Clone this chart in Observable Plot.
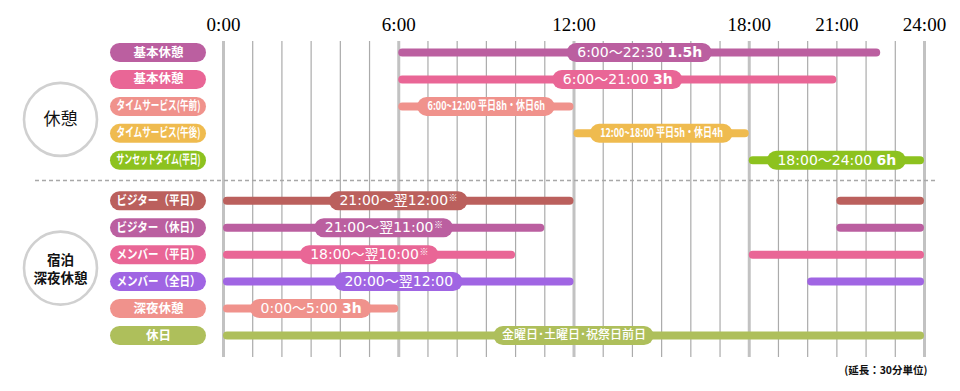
<!DOCTYPE html>
<html>
<head>
<meta charset="utf-8">
<script src="https://cdn.jsdelivr.net/npm/d3@7"></script>
<script src="https://cdn.jsdelivr.net/npm/@observablehq/plot@0.6"></script>
<style>
  html, body { margin: 0; padding: 0; background: #fff; }
</style>
</head>
<body>
<script>
// ---------------- DATA ----------------
const hourTicks = [0, 6, 12, 18, 21, 24];
const gridHours = d3.range(0, 25);
const rowLabels = [
  "基本休憩", "基本休憩", "タイムサービス(午前)", "タイムサービス(午後)", "サンセットタイム(平日)",
  "ビジター（平日）", "ビジター（休日）", "メンバー（平日）", "メンバー（全日）", "深夜休憩", "休日"
];
const rowGroups = [0, 0, 0, 0, 0, 1, 1, 1, 1, 1, 1];
const groupNames = ["休憩", "宿泊\n深夜休憩"];
const segStarts = [[6], [6], [6], [12], [18], [0, 21], [0, 21], [0, 18], [0, 20], [0], [0]];
const segEnds   = [[22.5], [21], [12], [18], [24], [12, 24], [11, 24], [10, 24], [12, 24], [6], [24]];
const labelTimes = [
  "6:00〜22:30 ", "6:00〜21:00 ", "6:00~12:00 平日8h・休日6h", "12:00~18:00 平日5h・休日4h",
  "18:00〜24:00 ", "21:00〜翌12:00", "21:00〜翌11:00", "18:00〜翌10:00", "20:00〜翌12:00",
  "0:00〜5:00 ", "金曜日･土曜日･祝祭日前日"
];
const labelHours = ["1.5h", "3h", "", "", "6h", "", "", "", "", "3h", ""];
const labelNotes = ["", "", "", "", "", "※", "※", "※", "", "", ""];
const footNote = "(延長：30分単位)";

// ---------------- STYLE ----------------
const ROW_COLORS = ["#bb5fa0", "#e96696", "#f0928c", "#efbb4f", "#8dc21f",
                    "#bb605d", "#bb5fa0", "#e96696", "#a065e3", "#f0928c", "#aebf5b"];
const LABEL_STYLE = ["num", "num", "cond", "cond", "num", "num", "num", "num", "num", "num", "jp"];
const FONT_JP = "'Noto Sans CJK JP', sans-serif";
const FONT_NUM = "'DejaVu Sans', 'Noto Sans CJK JP', sans-serif";
const COND = 0.75;

const xPix = d3.scaleLinear([0, 24], [223, 924]);
const ctx = document.createElement("canvas").getContext("2d");
function measure(text, font) { ctx.font = font; return ctx.measureText(text).width; }

const rows = rowLabels.map((name, i) => ({
  i, name, y: rowGroups[i] === 0 ? i : i + 0.5, color: ROW_COLORS[i]
}));
const segs = rows.flatMap(r => segStarts[r.i].map((s, k) => ({y: r.y, x1: s, x2: segEnds[r.i][k], color: r.color})));

const labels = rows.map(r => {
  const st = LABEL_STYLE[r.i];
  const mainFont = st === "cond" ? `700 12px ${FONT_JP}` : st === "jp" ? `500 12px ${FONT_JP}` : `400 14px ${FONT_NUM}`;
  const mainW = measure(labelTimes[r.i], mainFont) * (st === "cond" ? COND : 1);
  const boldW = labelHours[r.i] ? measure(labelHours[r.i], `700 14px ${FONT_NUM}`) : 0;
  const noteW = labelNotes[r.i] ? measure(labelNotes[r.i], `400 9px ${FONT_JP}`) + 1 : 0;
  const total = mainW + boldW + noteW;
  const cx = xPix((segStarts[r.i][0] + segEnds[r.i][0]) / 2);
  const left = cx - total / 2;
  const pad = st === "jp" ? 8 : 10;
  return {
    ...r, st, mainW,
    main: labelTimes[r.i], bold: labelHours[r.i], note: labelNotes[r.i],
    p1: xPix.invert(left - pad + 9.5), p2: xPix.invert(left + total + pad - 9.5),
    xMain: xPix.invert(left), xBold: xPix.invert(left + mainW), xNote: xPix.invert(left + mainW + boldW + 0.5)
  };
});

const g1 = rows.filter(r => rowGroups[r.i] === 0), g2 = rows.filter(r => rowGroups[r.i] === 1);
const groups = [
  {name: groupNames[0], y: d3.mean(g1, d => d.y)},
  {name: groupNames[1], y: d3.mean(g2, d => d.y)}
];
const sepY = (d3.max(g1, d => d.y) + d3.min(g2, d => d.y)) / 2;

const chart = Plot.plot({
  width: 960, height: 391,
  marginLeft: 35, marginRight: 25, marginTop: 41, marginBottom: 34,
  x: {domain: [0, 24], range: [223, 924], axis: "top", ticks: hourTicks,
      tickFormat: d => `${d}:00`, tickSize: 0, tickPadding: 11, label: null},
  y: {domain: [0, 10.5], range: [52, 335], axis: null},
  color: {type: "identity"},
  style: {fontFamily: "'Liberation Serif', serif", fontSize: "19px", background: "white", color: "black"},
  marks: [
    Plot.ruleX(gridHours.filter(h => h % 6 !== 0), {stroke: "#ababab", strokeWidth: 1.2}),
    Plot.ruleX(gridHours.filter(h => h % 6 === 0), {stroke: "#c2c2c2", strokeWidth: 3}),
    Plot.ruleY([sepY], {stroke: "#a8a8a8", strokeWidth: 1.3, strokeDasharray: "4,3"}),
    // group circles
    Plot.dot([groups[0]], {y: "y", frameAnchor: "left", dx: 25, dy: 13, r: 36.5, stroke: "#d0d0d0", strokeWidth: 2.6, fill: "white"}),
    Plot.dot([groups[1]], {y: "y", frameAnchor: "left", dx: 25, r: 36.5, stroke: "#d0d0d0", strokeWidth: 2.6, fill: "white"}),
    Plot.text([groups[0]], {y: "y", text: "name", frameAnchor: "left", dx: 25, dy: 13, textAnchor: "middle",
      fontSize: 17, fontFamily: FONT_JP, fill: "#111"}),
    Plot.text([groups[1]], {y: "y", text: "name", frameAnchor: "left", dx: 25, textAnchor: "middle",
      fontSize: 13.5, fontWeight: 700, lineHeight: 1.35, fontFamily: FONT_JP, fill: "#111"}),
    // category pills
    Plot.ruleY(rows, {y: "y", stroke: "color", strokeWidth: 19, strokeLinecap: "round", insetLeft: 84.5, insetRight: 738.5}),
    Plot.text(rows, {y: "y", text: "name", frameAnchor: "left", dx: 123, textAnchor: "middle",
      fill: "white", fontSize: 12.5, fontWeight: 700, fontFamily: FONT_JP, ariaDescription: "cat-label"}),
    // bars
    Plot.ruleY(segs, {y: "y", x1: "x1", x2: "x2", stroke: "color", strokeWidth: 8, strokeLinecap: "round", insetLeft: 4, insetRight: 4}),
    // label pills
    Plot.ruleY(labels, {y: "y", x1: "p1", x2: "p2", stroke: "color", strokeWidth: 19, strokeLinecap: "round"}),
    Plot.text(labels.filter(d => d.st === "num"), {x: "xMain", y: "y", text: "main", textAnchor: "start",
      fill: "white", fontSize: 14, fontFamily: FONT_NUM}),
    Plot.text(labels.filter(d => d.st === "cond"), {x: "xMain", y: "y", text: "main", textAnchor: "start",
      fill: "white", fontSize: 12, fontWeight: 700, fontFamily: FONT_JP, ariaDescription: "cond-label"}),
    Plot.text(labels.filter(d => d.st === "jp"), {x: "xMain", y: "y", text: "main", textAnchor: "start",
      fill: "white", fontSize: 12, fontWeight: 500, fontFamily: FONT_JP}),
    Plot.text(labels.filter(d => d.bold), {x: "xBold", y: "y", text: "bold", textAnchor: "start",
      fill: "white", fontSize: 14, fontWeight: 700, fontFamily: FONT_NUM}),
    Plot.text(labels.filter(d => d.note), {x: "xNote", y: "y", text: "note", textAnchor: "start", dy: -3,
      fill: "white", fontSize: 9, fontFamily: FONT_JP}),
    // foot note
    Plot.text([footNote], {frameAnchor: "bottom-right", dx: -8, dy: 16, textAnchor: "end",
      fontSize: 10.5, fontWeight: 700, fontFamily: FONT_JP, fill: "#111"})
  ]
});
document.body.appendChild(chart);

// condense long texts to fit their pills
const condData = labels.filter(d => d.st === "cond");
chart.querySelectorAll('g[aria-description="cond-label"] text').forEach((t, k) => {
  t.setAttribute("textLength", condData[k].mainW);
  t.setAttribute("lengthAdjust", "spacingAndGlyphs");
});
chart.querySelectorAll('g[aria-description="cat-label"] text').forEach(t => {
  if (t.getComputedTextLength() > 84) {
    t.setAttribute("textLength", 84);
    t.setAttribute("lengthAdjust", "spacingAndGlyphs");
  }
});
</script>
</body>
</html>
